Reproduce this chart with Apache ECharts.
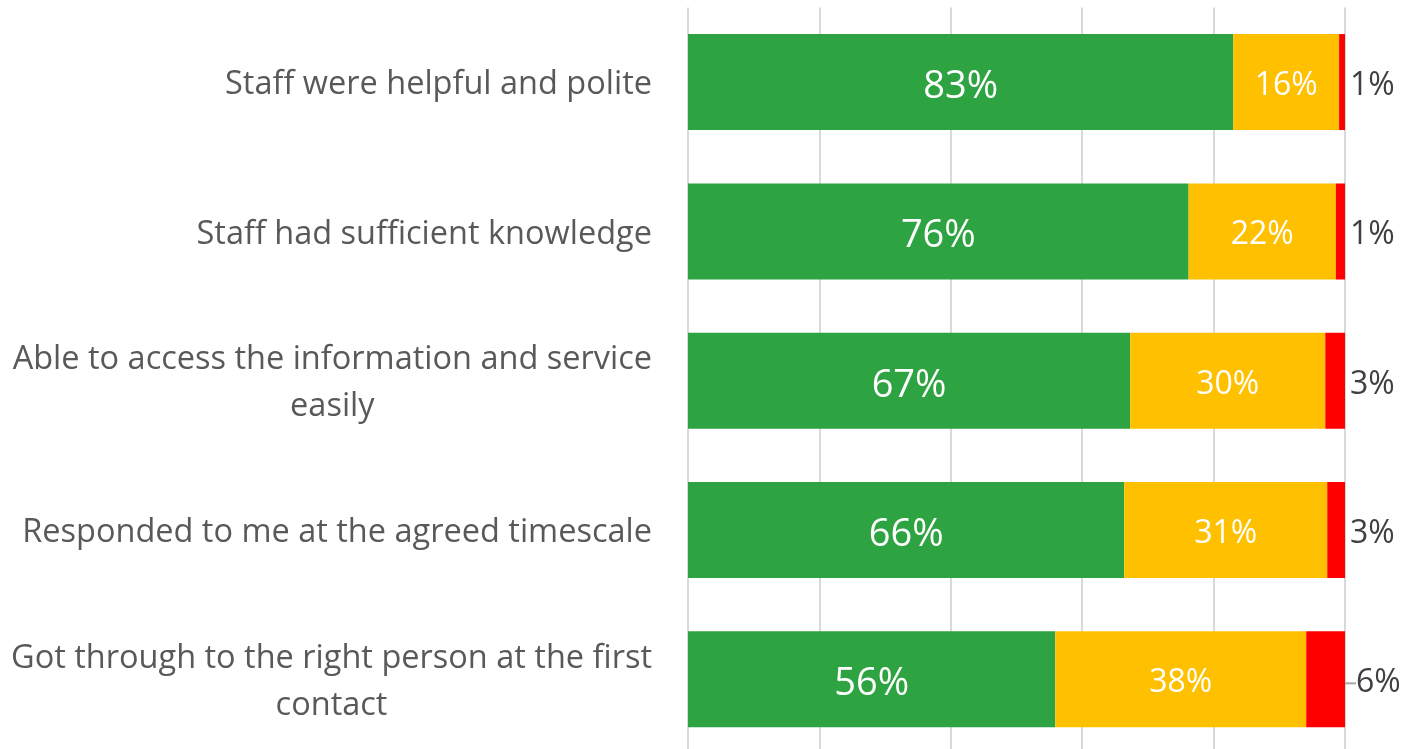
<!DOCTYPE html>
<html>
<head>
<meta charset="utf-8">
<script src="https://cdn.jsdelivr.net/npm/echarts@6/dist/echarts.min.js"></script>
<style>
  html, body { margin: 0; padding: 0; background: #fff; overflow: hidden; }
  /* a little taller than the window so the last band runs off the bottom edge, as in the original */
  #main { width: 1403px; height: 754px; }
</style>
</head>
<body>
<div id="main"></div>
<script>
// categories, top to bottom as in the picture
var categories = [
  'Staff were helpful and polite',
  'Staff had sufficient knowledge',
  'Able to access the information and service\neasily',
  'Responded to me at the agreed timescale',
  'Got through to the right person at the first\ncontact'
];
// shares in percent (labels show them rounded)
var goodValues = [83.0, 76.2, 67.3, 66.4, 55.9];
var okValues = [16.1, 22.4, 29.7, 30.9, 38.2];
var poorValues = [0.9, 1.4, 3.0, 2.7, 5.9];
var tickValues = [0, 20, 40, 60, 80, 100];

var FONT = 'Open Sans';
var myChart = echarts.init(document.getElementById('main'));

function pct(p) { return Math.round(p.value) + '%'; }

// only the last label got nudged off its bar, with a guide line
var poorData = poorValues.map(function (v, i) {
  return i === 4 ? { value: v, labelLine: { show: true } } : v;
});

myChart.setOption({
  animation: false,
  textStyle: { fontFamily: FONT },
  grid: { left: 688, right: 58, top: 7.4, bottom: 0, containLabel: false },
  xAxis: {
    type: 'value',
    min: tickValues[0],
    max: tickValues[tickValues.length - 1],
    interval: 20,
    axisLabel: { show: false },
    axisLine: { show: false },
    axisTick: { show: false },
    splitLine: { lineStyle: { color: '#d9d9d9', width: 2 } }
  },
  yAxis: {
    type: 'category',
    inverse: true,
    data: categories,
    axisLine: { show: false },
    axisTick: { show: false },
    axisLabel: {
      margin: 36,
      align: 'right',
      padding: [6, 0, 0, 0],
      formatter: function (v) { return '{c|' + v.split('\n').join('}\n{c|') + '}'; },
      rich: { c: { fontFamily: FONT, fontSize: 32.5, color: '#595959', align: 'center', lineHeight: 47 } }
    }
  },
  series: [
    {
      name: 'Good', type: 'bar', stack: 'all', barWidth: 96,
      data: goodValues,
      itemStyle: { color: '#2ea341' },
      label: { show: true, position: 'inside', offset: [0, 5], formatter: pct, color: '#fff', fontSize: 38, fontFamily: FONT }
    },
    {
      name: 'OK', type: 'bar', stack: 'all', barWidth: 96,
      data: okValues,
      itemStyle: { color: '#ffc000' },
      label: { show: true, position: 'inside', offset: [0, 4], formatter: pct, color: '#fff', fontSize: 32, fontFamily: FONT }
    },
    {
      name: 'Poor', type: 'bar', stack: 'all', barWidth: 96,
      data: poorData,
      itemStyle: { color: '#ff0000' },
      label: { show: true, position: 'right', distance: 5, formatter: pct, color: '#404040', fontSize: 32, fontFamily: FONT },
      labelLine: { show: false, lineStyle: { color: '#a6a6a6', width: 2 } },
      labelLayout: function (params) {
        if (params.dataIndex === 4) {
          return { dx: 6, dy: 4 };
        }
        return { dy: 4 };
      }
    }
  ]
});
</script>
</body>
</html>
